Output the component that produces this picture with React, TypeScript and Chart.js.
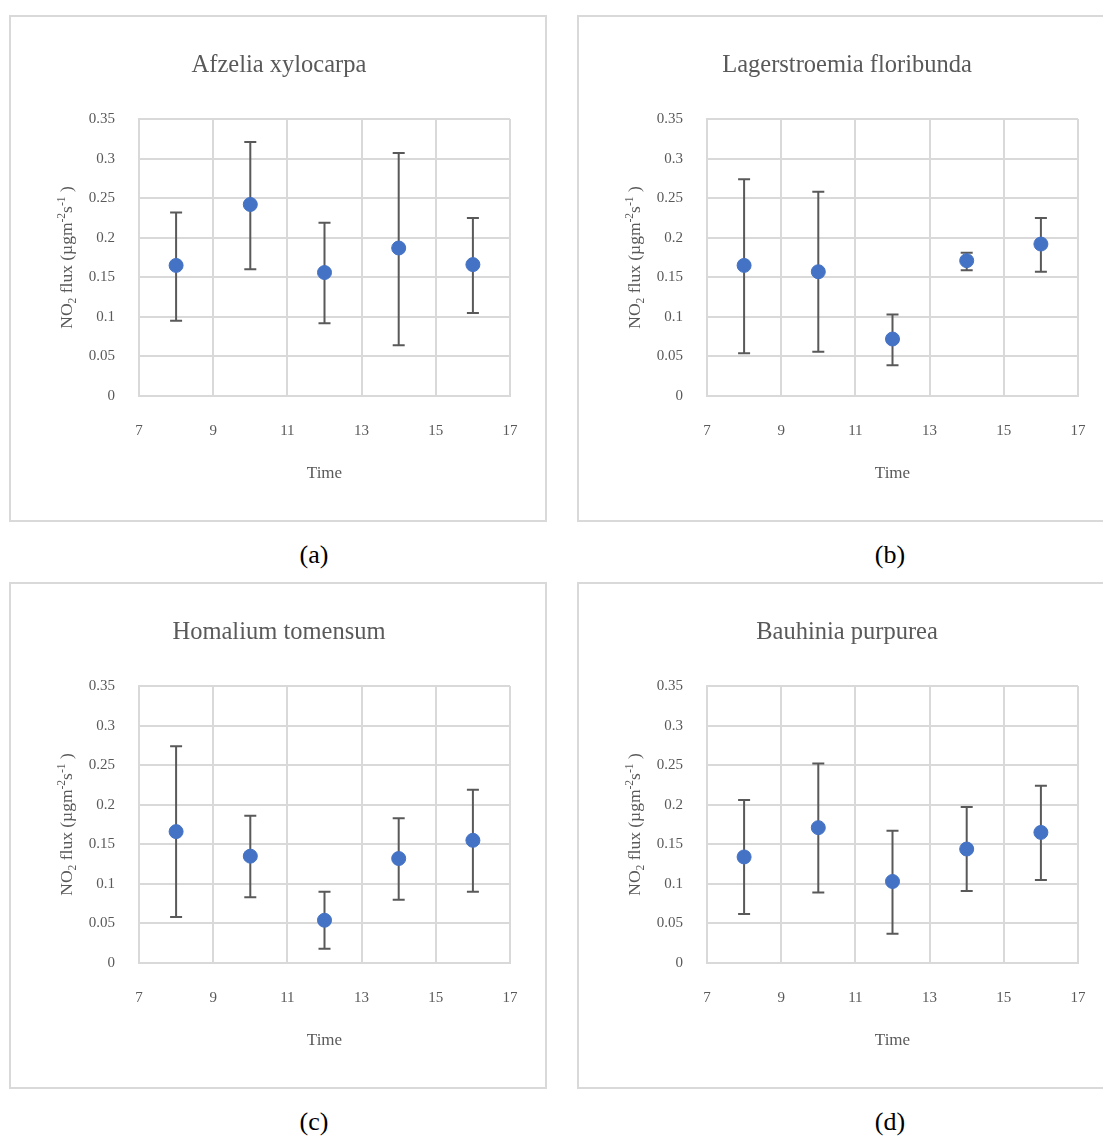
import React, { useEffect, useRef } from 'react';
import { Chart, registerables } from 'chart.js';

Chart.register(...registerables);

// ---- data ----
const times = [8, 10, 12, 14, 16];
const xTicks = [7, 9, 11, 13, 15, 17];
const yTicks = [0, 0.05, 0.1, 0.15, 0.2, 0.25, 0.3, 0.35];

const titleA = 'Afzelia xylocarpa';
const meanA = [0.165, 0.242, 0.156, 0.187, 0.166];
const upperA = [0.232, 0.321, 0.219, 0.307, 0.225];
const lowerA = [0.095, 0.160, 0.092, 0.064, 0.105];

const titleB = 'Lagerstroemia floribunda';
const meanB = [0.165, 0.157, 0.072, 0.171, 0.192];
const upperB = [0.274, 0.258, 0.103, 0.181, 0.225];
const lowerB = [0.054, 0.056, 0.039, 0.159, 0.157];

const titleC = 'Homalium tomensum';
const meanC = [0.166, 0.135, 0.054, 0.132, 0.155];
const upperC = [0.274, 0.186, 0.090, 0.183, 0.219];
const lowerC = [0.058, 0.083, 0.018, 0.080, 0.090];

const titleD = 'Bauhinia purpurea';
const meanD = [0.134, 0.171, 0.103, 0.144, 0.165];
const upperD = [0.206, 0.252, 0.167, 0.197, 0.224];
const lowerD = [0.062, 0.089, 0.037, 0.091, 0.105];

const panelLabels = ['(a)', '(b)', '(c)', '(d)'];
const xTitle = 'Time';

// ---- styles ----
const FONT = "'Liberation Serif', 'Times New Roman', serif";
const GRAY = '#595959';
const GRID = '#d9d9d9';
const BLUE = '#4472C4';
const BOX_W = 538;
const BOX_H = 507;

const makeErrorBars = (upper: number[], lower: number[]) => ({
  id: 'errorBars',
  beforeDatasetsDraw(chart: any) {
    const { ctx } = chart;
    const xs = chart.scales.x;
    const ys = chart.scales.y;
    ctx.save();
    ctx.strokeStyle = GRAY;
    ctx.lineWidth = 2;
    times.forEach((t, i) => {
      const px = xs.getPixelForValue(t);
      const pu = ys.getPixelForValue(upper[i]);
      const pl = ys.getPixelForValue(lower[i]);
      ctx.beginPath();
      ctx.moveTo(px, pu);
      ctx.lineTo(px, pl);
      ctx.moveTo(px - 6, pu);
      ctx.lineTo(px + 6, pu);
      ctx.moveTo(px - 6, pl);
      ctx.lineTo(px + 6, pl);
      ctx.stroke();
    });
    ctx.restore();
  },
});

const makeTitle = (text: string) => ({
  id: 'panelTitle',
  afterDraw(chart: any) {
    const { ctx } = chart;
    ctx.save();
    ctx.fillStyle = GRAY;
    ctx.font = `24.5px ${FONT}`;
    ctx.textAlign = 'center';
    ctx.textBaseline = 'middle';
    ctx.fillText(text, chart.width / 2 + 1, 50.5);
    ctx.restore();
  },
});

const yTitlePlugin = {
  id: 'richYTitle',
  afterDraw(chart: any) {
    const { ctx, chartArea } = chart;
    const size = 17.5;
    const small = 11.5;
    const segs: [string, number][] = [
      ['NO', 0],
      ['2', 1],
      [' flux (µgm', 0],
      ['-2', 2],
      ['s', 0],
      ['-1', 2],
      [' )', 0],
    ];
    ctx.save();
    ctx.fillStyle = GRAY;
    ctx.textBaseline = 'alphabetic';
    ctx.textAlign = 'left';
    let total = 0;
    const widths = segs.map(([t, k]) => {
      ctx.font = `${k ? small : size}px ${FONT}`;
      const w = ctx.measureText(t).width;
      total += w;
      return w;
    });
    const cy = (chartArea.top + chartArea.bottom) / 2;
    const cx = 63;
    ctx.translate(cx, cy);
    ctx.rotate(-Math.PI / 2);
    let x = -total / 2;
    segs.forEach(([t, k], i) => {
      ctx.font = `${k ? small : size}px ${FONT}`;
      const dy = k === 1 ? 4 : k === 2 ? -7.5 : 0;
      ctx.fillText(t, x, dy);
      x += widths[i];
    });
    ctx.restore();
  },
};

function Panel(props: {
  title: string;
  mean: number[];
  upper: number[];
  lower: number[];
  left: number;
  top: number;
}) {
  const ref = useRef<HTMLCanvasElement>(null);
  useEffect(() => {
    if (!ref.current) return;
    const chart = new Chart(ref.current, {
      type: 'scatter',
      data: {
        datasets: [
          {
            data: times.map((t, i) => ({ x: t, y: props.mean[i] })),
            backgroundColor: BLUE,
            borderColor: BLUE,
            pointRadius: 7,
            pointHoverRadius: 7,
            showLine: false,
          },
        ],
      },
      options: {
        animation: false,
        responsive: false,
        devicePixelRatio: 1,
        events: [],
        layout: { padding: { left: 0, right: 37, top: 104, bottom: 26 } },
        plugins: {
          legend: { display: false },
          tooltip: { enabled: false },
          title: { display: false },
        },
        scales: {
          x: {
            type: 'linear',
            min: xTicks[0],
            max: xTicks[xTicks.length - 1],
            afterBuildTicks: (s: any) => {
              s.ticks = xTicks.map((v) => ({ value: v }));
            },
            ticks: {
              color: GRAY,
              font: { family: FONT, size: 15 },
              padding: 26,
            },
            grid: { color: GRID, lineWidth: 2, drawTicks: false },
            border: { color: GRID, width: 2 },
            title: {
              display: true,
              text: xTitle,
              color: GRAY,
              font: { family: FONT, size: 17 },
              padding: { top: 0, bottom: 12 },
            },
            afterFit: (s: any) => {
              s.height = 100;
            },
          },
          y: {
            type: 'linear',
            min: yTicks[0],
            max: yTicks[yTicks.length - 1],
            afterBuildTicks: (s: any) => {
              s.ticks = yTicks.map((v) => ({ value: v }));
            },
            ticks: {
              color: GRAY,
              font: { family: FONT, size: 15 },
              padding: 24,
              callback: (v: any) => String(Number(Number(v).toFixed(2))),
            },
            grid: { color: GRID, lineWidth: 2, drawTicks: false },
            border: { color: GRID, width: 2 },
            afterFit: (s: any) => {
              s.width = 130;
            },
          },
        },
      } as any,
      plugins: [makeErrorBars(props.upper, props.lower), makeTitle(props.title), yTitlePlugin],
    });
    return () => chart.destroy();
  }, []);
  return (
    <>
      <canvas
        ref={ref}
        width={BOX_W}
        height={BOX_H}
        style={{ position: 'absolute', left: props.left, top: props.top, width: BOX_W, height: BOX_H }}
      />
      <div
        style={{
          position: 'absolute',
          left: props.left,
          top: props.top,
          width: BOX_W,
          height: BOX_H,
          border: `2px solid ${GRID}`,
          boxSizing: 'border-box',
          pointerEvents: 'none',
        }}
      />
    </>
  );
}

function Label(props: { text: string; cx: number; cy: number }) {
  return (
    <div
      style={{
        position: 'absolute',
        left: props.cx - 50,
        top: props.cy - 15,
        width: 100,
        height: 30,
        lineHeight: '30px',
        textAlign: 'center',
        fontFamily: FONT,
        fontSize: 26,
        color: '#000',
      }}
    >
      {props.text}
    </div>
  );
}

export default function App() {
  return (
    <div
      style={{
        position: 'absolute',
        left: 0,
        top: 0,
        width: 1103,
        height: 1137,
        overflow: 'hidden',
        background: '#fff',
      }}
    >
      <Panel title={titleA} mean={meanA} upper={upperA} lower={lowerA} left={9} top={15} />
      <Panel title={titleB} mean={meanB} upper={upperB} lower={lowerB} left={577} top={15} />
      <Panel title={titleC} mean={meanC} upper={upperC} lower={lowerC} left={9} top={582} />
      <Panel title={titleD} mean={meanD} upper={upperD} lower={lowerD} left={577} top={582} />
      <Label text={panelLabels[0]} cx={314} cy={555} />
      <Label text={panelLabels[1]} cx={890} cy={555} />
      <Label text={panelLabels[2]} cx={314} cy={1122} />
      <Label text={panelLabels[3]} cx={890} cy={1122} />
    </div>
  );
}
